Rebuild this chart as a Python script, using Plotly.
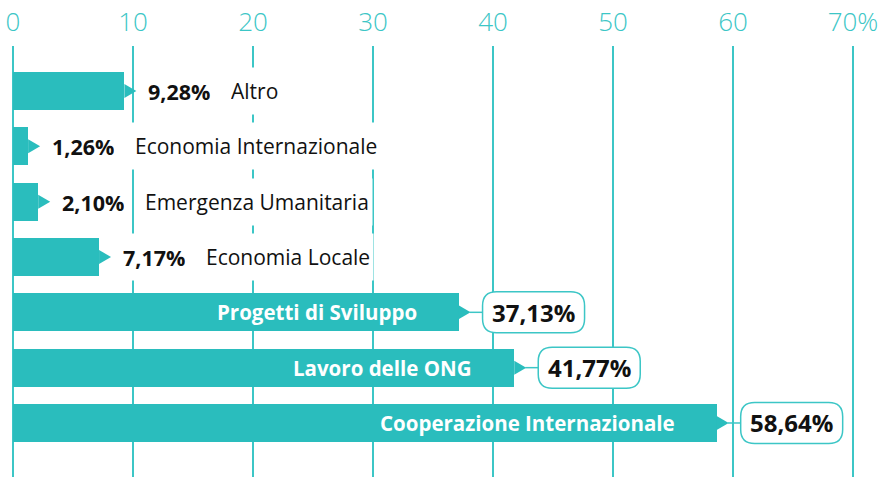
import plotly.graph_objects as go

categories = ["Altro", "Economia Internazionale", "Emergenza Umanitaria", "Economia Locale",
              "Progetti di Sviluppo", "Lavoro delle ONG", "Cooperazione Internazionale"]
values = [9.28, 1.26, 2.10, 7.17, 37.13, 41.77, 58.64]
tick_values = [0, 10, 20, 30, 40, 50, 60, 70]
tick_labels = ["0", "10", "20", "30", "40", "50", "60", "70%"]

TEAL = "#2abdbd"
GRID = "#3cc6c6"
FONT = "Open Sans"
INSIDE_THRESHOLD = 20

positions = list(range(len(categories)))

def fmt(v):
    return f"{v:.2f}".replace(".", ",") + "%"

fig = go.Figure()
fig.add_trace(go.Bar(
    x=values, y=positions, orientation="h", width=0.69,
    marker=dict(color=TEAL, line=dict(width=0)),
    hoverinfo="skip", showlegend=False,
))

shapes = []
annotations = []
for cat, v, p in zip(categories, values, positions):
    # pointer triangle at bar end
    shapes.append(dict(type="path", xref="x", yref="y", xsizemode="pixel", ysizemode="pixel",
                       xanchor=v, yanchor=p, path="M 0,7 L 12,0 L 0,-7 Z",
                       fillcolor=TEAL, line=dict(width=0), layer="above"))
    if v > INSIDE_THRESHOLD:
        shapes.append(dict(type="path", xref="x", yref="y", xsizemode="pixel", ysizemode="pixel",
                           xanchor=v, yanchor=p, path="M 11,0 L 24,0",
                           line=dict(color=GRID, width=1.5), layer="above"))
        box = ("M 38,20.5 L 112,20.5 Q 126,20.5 126,6.5 L 126,-6.5 Q 126,-20.5 112,-20.5 "
               "L 38,-20.5 Q 24,-20.5 24,-6.5 L 24,6.5 Q 24,20.5 38,20.5 Z")
        shapes.append(dict(type="path", xref="x", yref="y", xsizemode="pixel", ysizemode="pixel",
                           xanchor=v, yanchor=p, path=box, fillcolor="white",
                           line=dict(color=GRID, width=1.5), layer="above"))
        annotations.append(dict(x=v, y=p, xref="x", yref="y", xanchor="center", yanchor="middle",
                                xshift=75, showarrow=False, text=f"<b>{fmt(v)}</b>",
                                font=dict(family=FONT, size=24, color="#111111")))
        annotations.append(dict(x=v, y=p, xref="x", yref="y", xanchor="right", yanchor="middle",
                                xshift=-40, showarrow=False, text=f"<b>{cat}</b>",
                                font=dict(family=FONT, size=20.5, color="white")))
    else:
        annotations.append(dict(x=v, y=p, xref="x", yref="y", xanchor="left", yanchor="middle",
                                xshift=20, showarrow=False, text=f"<b>{fmt(v)}</b>",
                                bgcolor="white", borderpad=3, height=40, valign="middle",
                                font=dict(family=FONT, size=21.5, color="#111111")))
        annotations.append(dict(x=v, y=p, xref="x", yref="y", xanchor="left", yanchor="middle",
                                xshift=103, showarrow=False, text=cat,
                                bgcolor="white", borderpad=3, height=40, valign="middle",
                                font=dict(family=FONT, size=21, color="#111111")))

fig.update_layout(
    width=887, height=477, autosize=False,
    margin=dict(l=7, r=28, t=46, b=0, autoexpand=False),
    paper_bgcolor="white", plot_bgcolor="white",
    shapes=shapes, annotations=annotations,
    xaxis=dict(side="top", range=[-0.5, 70.5], tickvals=tick_values, ticktext=tick_labels,
               showgrid=True, gridcolor=GRID, gridwidth=1.5, zeroline=False, showline=False,
               ticks="", ticklabelstandoff=9, automargin=False,
               tickfont=dict(family=FONT, size=26, color=GRID, weight=300), fixedrange=True),
    yaxis=dict(range=[6.976, -0.813], showticklabels=False, showgrid=False, zeroline=False,
               showline=False, fixedrange=True, automargin=False),
    bargap=0,
)

fig.write_html("out.html", config={"displayModeBar": False},
               post_script="document.body.style.margin='0';")
